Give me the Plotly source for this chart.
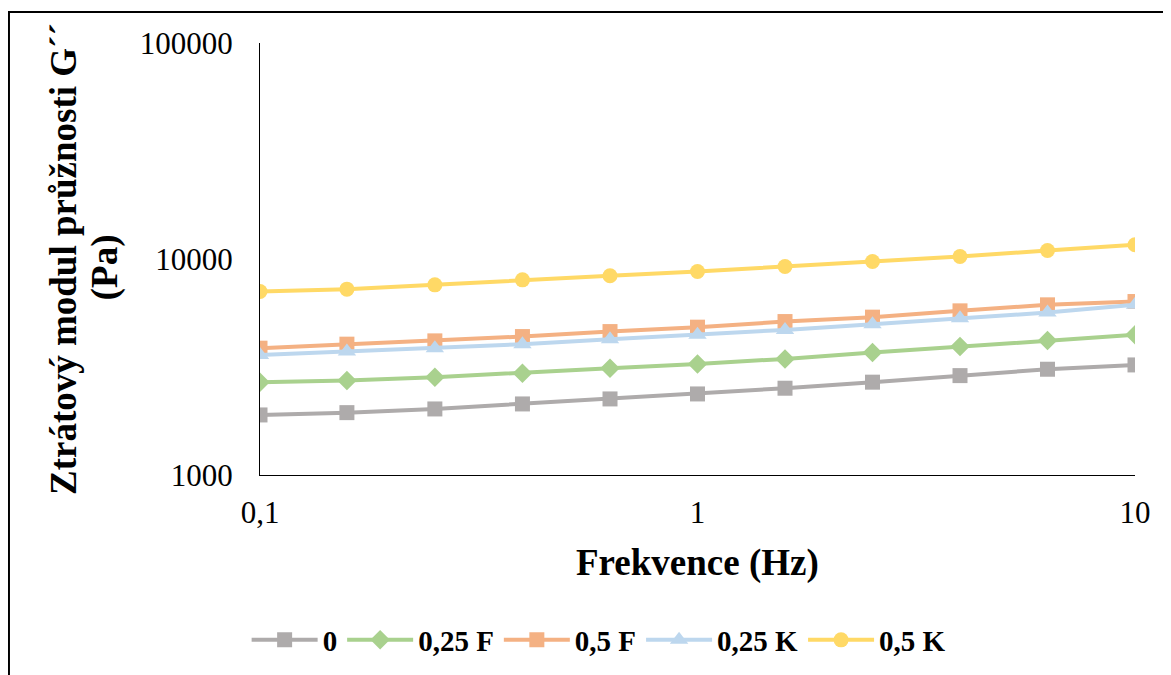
import plotly.graph_objects as go

freq = [0.1, 0.158, 0.251, 0.398, 0.631, 1.0, 1.585, 2.512, 3.981, 6.31, 10.0]

series_names = ["0", "0,25 F", "0,5 F", "0,25 K", "0,5 K"]
g0 = [1897, 1944, 2022, 2133, 2250, 2373, 2522, 2690, 2885, 3088, 3233]
g025F = [2690, 2735, 2836, 2960, 3122, 3268, 3448, 3687, 3932, 4192, 4454]
g05F = [3865, 4034, 4178, 4374, 4613, 4835, 5133, 5380, 5754, 6135, 6355]
g025K = [3598, 3728, 3865, 4034, 4254, 4454, 4697, 4993, 5322, 5650, 6135]
g05K = [7070, 7253, 7593, 8009, 8362, 8754, 9231, 9736, 10271, 10950, 11637]

x_tickvals = [0.1, 1, 10]
x_ticktext = ["0,1", "1", "10"]
y_tickvals = [1000, 10000, 100000]
y_ticktext = ["1000", "10000", "100000"]

x_title = "Frekvence (Hz)"
y_title_lines = ["Ztrátový modul průžnosti G´´", "(Pa)"]

colors = ["#AEABAB", "#A9D18E", "#F4B183", "#BDD7EE", "#FFD966"]
symbols = ["square", "diamond", "square", "triangle-up", "circle"]
sizes = [15, 15, 15, 16, 15]
values = [g0, g025F, g05F, g025K, g05K]

FONT = "Liberation Serif"

fig = go.Figure()
for name, vals, c, s, sz in zip(series_names, values, colors, symbols, sizes):
    fig.add_trace(go.Scatter(
        x=freq, y=vals, name=name, mode="lines+markers",
        line=dict(color=c, width=4),
        marker=dict(symbol=s, size=sz, color=c, line=dict(width=0)),
    ))

fig.update_layout(
    width=1171, height=675,
    margin=dict(l=252, r=44, t=35, b=208),
    paper_bgcolor="white", plot_bgcolor="white",
    font=dict(family=FONT, color="black", size=31),
    showlegend=True,
    legend=dict(
        orientation="h", x=0.387, xanchor="center", y=-0.382, yanchor="middle",
        font=dict(family=FONT, size=29, color="black", weight="bold"),
        itemwidth=66, tracegroupgap=0, bgcolor="rgba(0,0,0,0)",
    ),
    xaxis=dict(
        type="log", range=[-1, 1], showgrid=False, zeroline=False,
        showline=True, linecolor="black", linewidth=1,
        tickvals=x_tickvals, ticktext=x_ticktext, ticks="",
        ticklabelstandoff=10,
        tickfont=dict(family=FONT, size=31, color="black"),
    ),
    yaxis=dict(
        type="log", range=[3, 5], showgrid=False, zeroline=False,
        showline=True, linecolor="black", linewidth=1,
        tickvals=y_tickvals, ticktext=y_ticktext, ticks="",
        ticklabelstandoff=20,
        tickfont=dict(family=FONT, size=31, color="black"),
    ),
    annotations=[
        dict(text="<b>%s</b>" % x_title, xref="paper", yref="paper",
             x=0.5, y=-0.2037, xanchor="center", yanchor="middle",
             showarrow=False, font=dict(family=FONT, size=37, color="black")),
        dict(text="<b>%s</b>" % y_title_lines[0], xref="paper", yref="paper",
             x=-0.2251, y=0.500, xanchor="center", yanchor="middle", textangle=-90,
             showarrow=False, font=dict(family=FONT, size=37, color="black")),
        dict(text="<b>%s</b>" % y_title_lines[1], xref="paper", yref="paper",
             x=-0.1771, y=0.481, xanchor="center", yanchor="middle", textangle=-90,
             showarrow=False, font=dict(family=FONT, size=37, color="black")),
    ],
    shapes=[
        dict(type="path", xref="paper", yref="paper",
             path="M 1.1,1.0718 L -0.2869,1.0718 L -0.2869,-0.6",
             line=dict(color="black", width=2)),
    ],
)

fig.write_html("out.html")
